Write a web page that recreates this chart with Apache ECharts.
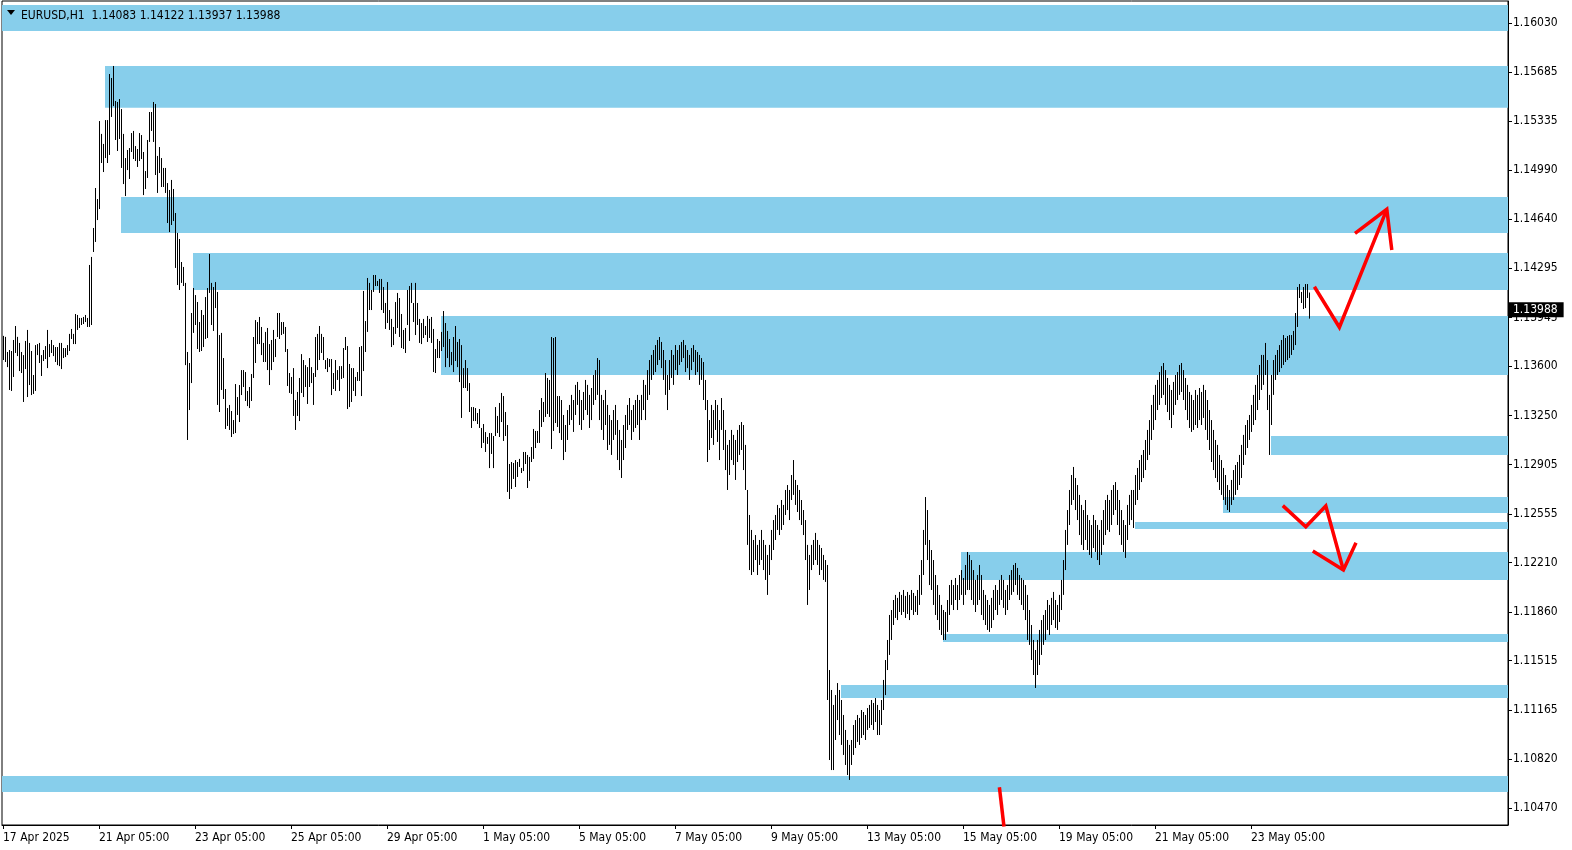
<!DOCTYPE html>
<html><head><meta charset="utf-8">
<script src="https://cdn.jsdelivr.net/npm/echarts@6/dist/echarts.min.js"></script>
<style>html,body{margin:0;padding:0;background:#fff}#c{width:1572px;height:850px}</style>
</head><body><div id="c"></div>
<script>
const symbolTitle = 'EURUSD,H1  1.14083 1.14122 1.13937 1.13988';
const lastPrice = 1.13988;
const xTickBars = [0,48,96,144,192,240,288,336,384,432,480,528,576,624];
const xTickLabels = ['17 Apr 2025','21 Apr 05:00','23 Apr 05:00','25 Apr 05:00','29 Apr 05:00','1 May 05:00','5 May 05:00','7 May 05:00','9 May 05:00','13 May 05:00','15 May 05:00','19 May 05:00','21 May 05:00','23 May 05:00'];
const yTickLabels = ['1.16030','1.15685','1.15335','1.14990','1.14640','1.14295','1.13945','1.13600','1.13250','1.12905','1.12555','1.12210','1.11860','1.11515','1.11165','1.10820','1.10470'];

const barHigh = [
1.13815,1.13808,1.13701,1.13715,1.13708,1.13786,1.13885,1.13808,1.13765,1.13701,
1.13679,1.13779,1.13857,1.13765,1.13708,1.13538,1.13750,1.13757,1.13765,1.13679,
1.13715,1.13743,1.13857,1.13757,1.13786,1.13750,1.13736,1.13736,1.13765,1.13765,
1.13729,1.13729,1.13750,1.13829,1.13864,1.13829,1.13970,1.13963,1.13942,1.13942,
1.13949,1.13963,1.13942,1.14317,1.14374,1.14579,1.14862,1.14784,1.15336,1.15245,
1.15174,1.15343,1.15343,1.15669,1.15641,1.15726,1.15478,1.15471,1.15492,1.15421,
1.15245,1.15074,1.15131,1.15145,1.15251,1.15266,1.15159,1.15138,1.15251,1.15237,
1.15117,1.14982,1.15202,1.15400,1.15400,1.15471,1.15457,1.15089,1.15152,1.15074,
1.15004,1.15004,1.14897,1.14848,1.14919,1.14855,1.14685,1.14544,1.14501,1.14338,
1.14303,1.14190,1.13701,1.13623,1.13977,1.14154,1.14104,1.14055,1.13913,1.13998,
1.13963,1.14090,1.14154,1.14395,1.14190,1.14161,1.14196,1.14126,1.13821,1.13836,
1.13658,1.13439,1.13304,1.13326,1.13283,1.13219,1.13474,1.13382,1.13467,1.13573,
1.13573,1.13559,1.13425,1.13453,1.13545,1.13807,1.13927,1.13913,1.13949,1.13878,
1.13765,1.13843,1.13871,1.13757,1.13786,1.13857,1.13793,1.13977,1.13977,1.13913,
1.13913,1.13878,1.13722,1.13552,1.13524,1.13587,1.13361,1.13418,1.13517,1.13686,
1.13644,1.13608,1.13594,1.13658,1.13594,1.13552,1.13807,1.13829,1.13885,1.13829,
1.13807,1.13644,1.13658,1.13651,1.13651,1.13552,1.13644,1.13573,1.13601,1.13601,
1.13729,1.13807,1.13743,1.13616,1.13587,1.13587,1.13524,1.13559,1.13736,1.13743,
1.14133,1.13920,1.14225,1.14190,1.14140,1.14246,1.14246,1.14204,1.14218,1.14218,
1.14161,1.14048,1.14196,1.13998,1.13935,1.13878,1.14055,1.14119,1.14083,1.13970,
1.13857,1.13871,1.14140,1.14168,1.14190,1.14048,1.14190,1.14048,1.13935,1.13906,
1.13935,1.13885,1.13956,1.13935,1.13949,1.13864,1.13722,1.13793,1.13779,1.13843,
1.13991,1.13906,1.13850,1.13793,1.13701,1.13807,1.13885,1.13772,1.13793,1.13750,
1.13587,1.13644,1.13587,1.13481,1.13311,1.13311,1.13304,1.13269,1.13297,1.13163,
1.13191,1.13134,1.13099,1.13127,1.13127,1.13106,1.13311,1.13248,1.13340,1.13411,
1.13389,1.13276,1.13184,1.12908,1.12922,1.12915,1.12936,1.12922,1.12944,1.12880,
1.12993,1.12993,1.12972,1.12958,1.13028,1.13156,1.13142,1.13142,1.13290,1.13375,
1.13347,1.13552,1.13517,1.13503,1.13807,1.13800,1.13807,1.13389,1.13389,1.13361,
1.13255,1.13184,1.13290,1.13326,1.13397,1.13361,1.13468,1.13489,1.13432,1.13361,
1.13418,1.13503,1.13468,1.13397,1.13446,1.13538,1.13573,1.13658,1.13644,1.13397,
1.13361,1.13432,1.13326,1.13255,1.13219,1.13290,1.13326,1.13219,1.13149,1.13078,
1.13184,1.13255,1.13326,1.13375,1.13290,1.13326,1.13361,1.13397,1.13361,1.13397,
1.13503,1.13468,1.13573,1.13644,1.13680,1.13715,1.13750,1.13786,1.13807,1.13772,
1.13715,1.13644,1.13538,1.13644,1.13715,1.13680,1.13750,1.13715,1.13750,1.13772,
1.13786,1.13750,1.13715,1.13680,1.13729,1.13750,1.13715,1.13701,1.13680,1.13658,
1.13630,1.13503,1.13361,1.13219,1.13326,1.13290,1.13361,1.13326,1.13219,1.13375,
1.13290,1.13149,1.13043,1.13078,1.13149,1.13114,1.13078,1.13149,1.13184,1.13205,
1.13184,1.13043,1.12724,1.12547,1.12441,1.12370,1.12405,1.12335,1.12370,1.12441,
1.12370,1.12335,1.12264,1.12335,1.12441,1.12511,1.12547,1.12618,1.12596,1.12653,
1.12618,1.12724,1.12759,1.12724,1.12830,1.12936,1.12795,1.12759,1.12724,1.12653,
1.12582,1.12511,1.12335,1.12264,1.12335,1.12370,1.12420,1.12370,1.12335,1.12313,
1.12264,1.12228,1.12193,1.11449,1.11308,1.11202,1.11272,1.11357,1.11308,1.11237,
1.11131,1.11025,1.10954,1.10919,1.10954,1.11060,1.11095,1.11131,1.11110,1.11166,
1.11152,1.11131,1.11180,1.11202,1.11237,1.11216,1.11251,1.11202,1.11166,1.11237,
1.11379,1.11520,1.11662,1.11839,1.11874,1.11945,1.11981,1.11960,1.12002,1.11981,
1.12016,1.11974,1.12002,1.11981,1.12016,1.11995,1.11974,1.12016,1.12122,1.12228,
1.12441,1.12674,1.12582,1.12370,1.12299,1.12228,1.12122,1.12051,1.11981,1.11910,
1.11874,1.11860,1.11945,1.12051,1.12087,1.12051,1.12101,1.12051,1.12122,1.12157,
1.12101,1.12193,1.12285,1.12264,1.12228,1.12157,1.12087,1.12122,1.12193,1.12122,
1.12016,1.11981,1.11945,1.11910,1.11960,1.12016,1.12051,1.12016,1.12087,1.12122,
1.12087,1.12016,1.12051,1.12122,1.12157,1.12193,1.12207,1.12172,1.12122,1.12101,
1.12087,1.12051,1.11981,1.11874,1.11768,1.11662,1.11591,1.11662,1.11733,1.11803,
1.11839,1.11874,1.11945,1.11910,1.11960,1.12002,1.11945,1.11910,1.11981,1.12087,
1.12228,1.12441,1.12582,1.12724,1.12830,1.12887,1.12809,1.12759,1.12689,1.12618,
1.12582,1.12653,1.12547,1.12511,1.12476,1.12547,1.12511,1.12476,1.12441,1.12511,
1.12582,1.12653,1.12689,1.12653,1.12724,1.12759,1.12780,1.12724,1.12653,1.12582,
1.12511,1.12476,1.12618,1.12689,1.12724,1.12724,1.12830,1.12880,1.12936,1.12972,
1.13007,1.13078,1.13149,1.13219,1.13326,1.13397,1.13468,1.13503,1.13559,1.13601,
1.13623,1.13573,1.13517,1.13468,1.13432,1.13489,1.13538,1.13559,1.13609,1.13623,
1.13573,1.13517,1.13468,1.13418,1.13397,1.13361,1.13432,1.13397,1.13446,1.13418,
1.13468,1.13432,1.13361,1.13290,1.13219,1.13149,1.13078,1.13043,1.12972,1.12936,
1.12880,1.12830,1.12759,1.12724,1.12795,1.12865,1.12901,1.12922,1.12972,1.13043,
1.13114,1.13184,1.13219,1.13255,1.13326,1.13397,1.13468,1.13538,1.13609,1.13680,
1.13680,1.13765,1.13644,1.13397,1.13538,1.13644,1.13680,1.13715,1.13750,1.13786,
1.13821,1.13800,1.13814,1.13821,1.13821,1.13850,1.13977,1.14161,1.14182,1.14126,
1.14161,1.14182,1.14182,1.14122
];
const barLow = [
1.13644,1.13630,1.13594,1.13432,1.13425,1.13524,1.13694,1.13672,1.13566,1.13552,
1.13347,1.13580,1.13382,1.13467,1.13396,1.13404,1.13425,1.13679,1.13623,1.13531,
1.13637,1.13651,1.13587,1.13665,1.13694,1.13672,1.13630,1.13608,1.13601,1.13580,
1.13658,1.13665,1.13679,1.13708,1.13793,1.13757,1.13757,1.13857,1.13871,1.13892,
1.13899,1.13913,1.13878,1.13878,1.13892,1.14409,1.14480,1.14635,1.14713,1.15039,
1.14975,1.15074,1.15039,1.15096,1.15365,1.15442,1.15202,1.15124,1.15209,1.15004,
1.14890,1.14805,1.14989,1.14926,1.15117,1.15067,1.15053,1.15011,1.15053,1.15067,
1.14812,1.14855,1.14933,1.15188,1.15266,1.15188,1.14954,1.14827,1.14968,1.14869,
1.14869,1.14827,1.14614,1.14550,1.14600,1.14628,1.14296,1.14175,1.14140,1.14190,
1.14168,1.13608,1.13078,1.13290,1.13481,1.13836,1.13892,1.13722,1.13701,1.13708,
1.13736,1.13793,1.13800,1.14119,1.13892,1.13850,1.14012,1.13326,1.13276,1.13432,
1.13368,1.13156,1.13177,1.13149,1.13099,1.13120,1.13127,1.13255,1.13205,1.13396,
1.13453,1.13354,1.13318,1.13304,1.13354,1.13517,1.13623,1.13757,1.13757,1.13679,
1.13630,1.13630,1.13573,1.13467,1.13573,1.13630,1.13665,1.13807,1.13793,1.13821,
1.13829,1.13701,1.13460,1.13411,1.13404,1.13248,1.13149,1.13248,1.13212,1.13411,
1.13382,1.13453,1.13333,1.13453,1.13481,1.13326,1.13524,1.13573,1.13644,1.13694,
1.13644,1.13580,1.13559,1.13594,1.13396,1.13439,1.13425,1.13503,1.13425,1.13510,
1.13517,1.13715,1.13297,1.13311,1.13347,1.13425,1.13389,1.13496,1.13496,1.13389,
1.13566,1.13701,1.13843,1.13998,1.13998,1.14126,1.14168,1.14168,1.14119,1.13998,
1.13977,1.13864,1.13906,1.13857,1.13736,1.13750,1.13829,1.13871,1.13807,1.13729,
1.13722,1.13694,1.13892,1.13779,1.14048,1.13913,1.13821,1.13892,1.13765,1.13757,
1.13800,1.13821,1.13772,1.13800,1.13765,1.13559,1.13552,1.13658,1.13658,1.13708,
1.13736,1.13594,1.13658,1.13594,1.13608,1.13559,1.13637,1.13594,1.13488,1.13234,
1.13446,1.13446,1.13425,1.13276,1.13163,1.13212,1.13212,1.13191,1.13163,1.13021,
1.13057,1.12993,1.13050,1.12879,1.12979,1.12879,1.13106,1.13127,1.13099,1.13205,
1.13071,1.13106,1.12710,1.12660,1.12731,1.12802,1.12745,1.12816,1.12887,1.12844,
1.12858,1.12908,1.12738,1.12788,1.12922,1.12944,1.13021,1.13057,1.13057,1.13170,
1.13205,1.13241,1.13262,1.13241,1.13014,1.13142,1.13198,1.13170,1.13127,1.13078,
1.12936,1.12993,1.13078,1.13184,1.13219,1.13135,1.13255,1.13326,1.13184,1.13149,
1.13219,1.13290,1.13255,1.13163,1.13219,1.13326,1.13361,1.13397,1.13219,1.13149,
1.13078,1.13184,1.13007,1.13043,1.12972,1.13078,1.13114,1.12936,1.12865,1.12809,
1.12936,1.13021,1.13149,1.13184,1.13078,1.13135,1.13163,1.13184,1.13078,1.13219,
1.13290,1.13219,1.13361,1.13397,1.13503,1.13538,1.13559,1.13609,1.13644,1.13587,
1.13503,1.13397,1.13290,1.13432,1.13517,1.13468,1.13573,1.13538,1.13609,1.13630,
1.13658,1.13559,1.13587,1.13503,1.13573,1.13630,1.13538,1.13559,1.13468,1.13503,
1.13361,1.13290,1.12922,1.13007,1.13092,1.13043,1.13149,1.13064,1.12936,1.13149,
1.13007,1.12865,1.12724,1.12830,1.12936,1.12901,1.12795,1.12922,1.12972,1.13007,
1.12865,1.12724,1.12335,1.12157,1.12122,1.12143,1.12228,1.12122,1.12193,1.12228,
1.12157,1.12087,1.11981,1.12122,1.12228,1.12299,1.12370,1.12441,1.12405,1.12441,
1.12476,1.12547,1.12582,1.12511,1.12653,1.12689,1.12618,1.12568,1.12511,1.12476,
1.12405,1.12228,1.11910,1.12016,1.12157,1.12193,1.12228,1.12193,1.12122,1.12157,
1.12087,1.12073,1.11237,1.10812,1.10741,1.10741,1.10954,1.11095,1.10989,1.10919,
1.10848,1.10777,1.10706,1.10671,1.10777,1.10848,1.10897,1.10940,1.10919,1.10968,
1.10989,1.10954,1.11025,1.11039,1.11060,1.11025,1.11081,1.10989,1.10989,1.11060,
1.11166,1.11272,1.11449,1.11556,1.11662,1.11768,1.11818,1.11803,1.11860,1.11839,
1.11860,1.11818,1.11846,1.11803,1.11874,1.11839,1.11860,1.11839,1.11910,1.11981,
1.12122,1.12335,1.12228,1.12051,1.12016,1.11910,1.11839,1.11803,1.11733,1.11697,
1.11662,1.11662,1.11719,1.11839,1.11910,1.11874,1.11945,1.11874,1.11945,1.11981,
1.11910,1.11981,1.12016,1.12016,1.11945,1.11910,1.11860,1.11910,1.11945,1.11839,
1.11803,1.11768,1.11733,1.11719,1.11747,1.11803,1.11874,1.11839,1.11910,1.11945,
1.11889,1.11839,1.11874,1.11945,1.11981,1.12002,1.12051,1.11981,1.11945,1.11910,
1.11874,1.11803,1.11662,1.11627,1.11520,1.11414,1.11322,1.11414,1.11485,1.11556,
1.11627,1.11662,1.11733,1.11697,1.11768,1.11803,1.11747,1.11733,1.11789,1.11874,
1.11981,1.12157,1.12335,1.12476,1.12618,1.12653,1.12582,1.12511,1.12405,1.12335,
1.12299,1.12370,1.12299,1.12264,1.12243,1.12313,1.12285,1.12228,1.12193,1.12264,
1.12335,1.12405,1.12441,1.12427,1.12476,1.12547,1.12582,1.12476,1.12405,1.12335,
1.12285,1.12243,1.12370,1.12476,1.12511,1.12455,1.12618,1.12653,1.12724,1.12780,
1.12809,1.12865,1.12936,1.12972,1.13078,1.13149,1.13219,1.13290,1.13326,1.13375,
1.13397,1.13326,1.13276,1.13219,1.13163,1.13255,1.13326,1.13361,1.13397,1.13418,
1.13361,1.13290,1.13219,1.13163,1.13135,1.13149,1.13184,1.13163,1.13219,1.13184,
1.13234,1.13149,1.13078,1.13007,1.12922,1.12865,1.12809,1.12780,1.12724,1.12689,
1.12653,1.12618,1.12582,1.12568,1.12618,1.12653,1.12689,1.12724,1.12759,1.12809,
1.12901,1.12972,1.13021,1.13078,1.13135,1.13184,1.13219,1.13290,1.13361,1.13432,
1.13468,1.13538,1.13290,1.12972,1.13184,1.13397,1.13503,1.13538,1.13559,1.13587,
1.13609,1.13630,1.13644,1.13658,1.13680,1.13715,1.13750,1.13878,1.14083,1.14048,
1.14005,1.14012,1.14083,1.13937
];

const zoneStart  = [-0.5, 51, 59, 95, 219, 634, 610, 566, 479, 470, 419, -0.5];
const zoneTop    = [1.16158,1.15726,1.14798,1.14402,1.13956,1.13106,1.12674,1.12497,1.12285,1.11704,1.11343,1.10699];
const zoneBottom = [1.15974,1.15431,1.14543,1.14140,1.13538,1.12972,1.12561,1.12448,1.12087,1.11648,1.11251,1.10586];

const redPaths = [
  [[655.7,1.14163],[668.2,1.13876],[691.9,1.14711]],
  [[676.0,1.14541],[691.9,1.14711],[694.4,1.14423]],
  [[639.9,1.12613],[651.4,1.12464],[661.4,1.12611],[670.2,1.12157]],
  [[654.9,1.12292],[670.2,1.12157],[676.5,1.12351]],
  [[498.2,1.10619],[500.5,1.10340]]
];

const X_MIN = -0.5, X_MAX = 752.5, Y_MIN = 1.10352, Y_MAX = 1.16186;
const FONT = "'DejaVu Sans Condensed', 'DejaVu Sans', sans-serif";

const bars = barHigh.map((h, i) => [i, barLow[i], h]);
const zones = zoneStart.map((s, i) => [s, zoneTop[i], zoneBottom[i]]);

const chart = echarts.init(document.getElementById('c'), null, {renderer: 'canvas'});
const series = [
  {
    type: 'custom', z: 1, silent: true, data: zones,
    renderItem: function (params, api) {
      const p1 = api.coord([api.value(0), api.value(1)]);
      const p2 = api.coord([X_MAX, api.value(2)]);
      return {type: 'rect', shape: {x: p1[0], y: p1[1], width: p2[0] - p1[0], height: p2[1] - p1[1]},
        style: {fill: '#87CEEB'}};
    }
  },
  {
    type: 'custom', z: 3, silent: true, data: bars,
    renderItem: function (params, api) {
      const lo = api.coord([api.value(0), api.value(1)]);
      const hi = api.coord([api.value(0), api.value(2)]);
      const x = Math.floor(lo[0]) + 0.5;
      return {type: 'line', shape: {x1: x, y1: lo[1], x2: x, y2: hi[1]}, style: {stroke: '#000', lineWidth: 1}};
    }
  },
  {
    type: 'line', z: 10, silent: true, data: [], symbol: 'none',
    markLine: {
      silent: true, symbol: 'none', animation: false, z: 10,
      lineStyle: {color: 'rgba(0,0,0,0)', width: 1, type: 'solid'},
      data: [{yAxis: lastPrice}],
      label: {show: true, position: 'end', distance: 1, formatter: lastPrice.toFixed(5), backgroundColor: '#000',
        color: '#fff', fontFamily: FONT, fontSize: 12, padding: [2, 6, 1, 4]}
    }
  }
];
redPaths.forEach(p => series.push({
  type: 'line', z: 4, silent: true, data: p, symbol: 'none', clip: true,
  lineStyle: {color: '#FF0000', width: 3.5, cap: 'butt', join: 'miter'}
}));

chart.setOption({
  animation: false,
  backgroundColor: '#fff',
  grid: {left: 2, right: 64, top: 1, bottom: 25, show: true, borderColor: '#000', borderWidth: 1, backgroundColor: 'transparent'},
  title: {text: symbolTitle, left: 16, top: 5, textStyle: {fontFamily: FONT, fontSize: 12, fontWeight: 'normal', color: '#000'}},
  graphic: [{type: 'polygon', z: 100, shape: {points: [[7, 10], [15, 10], [11, 15]]}, style: {fill: '#000'}}],
  xAxis: {
    type: 'value', min: X_MIN, max: X_MAX, splitLine: {show: false},
    axisLine: {show: true, onZero: false, lineStyle: {color: '#000'}},
    axisTick: {show: true, length: 4, customValues: xTickBars, lineStyle: {color: '#000'}},
    axisLabel: {customValues: xTickBars, formatter: v => xTickLabels[xTickBars.indexOf(Math.round(v))] || '',
      align: 'left', margin: 7, color: '#000', fontFamily: FONT, fontSize: 12}
  },
  yAxis: {
    type: 'value', position: 'right', min: Y_MIN, max: Y_MAX, splitLine: {show: false},
    axisLine: {show: true, onZero: false, lineStyle: {color: '#000'}},
    axisTick: {show: true, length: 4, customValues: yTickLabels.map(Number), lineStyle: {color: '#000'}},
    axisLabel: {customValues: yTickLabels.map(Number), formatter: v => v.toFixed(5),
      margin: 5, padding: [3, 0, 0, 0], color: '#000', fontFamily: FONT, fontSize: 12}
  },
  series: series
});
</script></body></html>
